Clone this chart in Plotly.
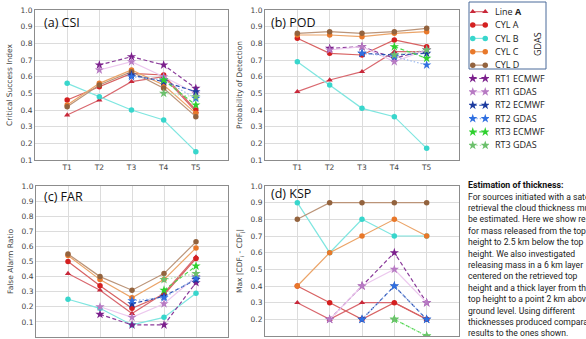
import plotly.graph_objects as go

# ---------------- data ----------------
times = ["T1", "T2", "T3", "T4", "T5"]
t_pos = [1, 2, 3, 4, 5]

series_names = ["Line <b>A</b>", "CYL A", "CYL B", "CYL C", "CYL D",
                "RT1 ECMWF", "RT1 GDAS", "RT2 ECMWF", "RT2 GDAS", "RT3 ECMWF", "RT3 GDAS"]

csi_line_a = [0.37, 0.46, 0.57, 0.60, 0.39]
csi_cyl_a = [0.46, 0.54, 0.62, 0.61, 0.40]
csi_cyl_b = [0.56, 0.48, 0.40, 0.34, 0.15]
csi_cyl_c = [0.43, 0.56, 0.64, 0.55, 0.38]
csi_cyl_d = [0.42, 0.55, 0.63, 0.53, 0.36]
csi_rt1_ecmwf = [None, 0.67, 0.72, 0.67, 0.53]
csi_rt1_gdas = [None, 0.64, 0.69, 0.60, 0.50]
csi_rt2_ecmwf = [None, None, 0.61, 0.57, 0.51]
csi_rt2_gdas = [None, None, 0.60, 0.58, 0.47]
csi_rt3_ecmwf = [None, None, None, 0.58, 0.43]
csi_rt3_gdas = [None, None, None, 0.50, 0.48]

pod_line_a = [0.51, 0.58, 0.63, 0.75, 0.75]
pod_cyl_a = [0.83, 0.74, 0.73, 0.82, 0.78]
pod_cyl_b = [0.69, 0.55, 0.41, 0.36, 0.17]
pod_cyl_c = [0.85, 0.85, 0.84, 0.86, 0.87]
pod_cyl_d = [0.86, 0.87, 0.86, 0.87, 0.89]
pod_rt1_ecmwf = [None, 0.77, 0.78, 0.71, 0.76]
pod_rt1_gdas = [None, 0.76, 0.78, 0.69, 0.76]
pod_rt2_ecmwf = [None, None, 0.74, 0.73, 0.74]
pod_rt2_gdas = [None, None, 0.74, 0.72, 0.67]
pod_rt3_ecmwf = [None, None, None, 0.78, 0.71]
pod_rt3_gdas = [None, None, None, 0.73, 0.76]

far_line_a = [0.42, 0.31, 0.155, 0.29, 0.53]
far_cyl_a = [0.50, 0.34, 0.19, 0.28, 0.52]
far_cyl_b = [0.25, 0.19, 0.08, 0.13, 0.29]
far_cyl_c = [0.54, 0.38, 0.26, 0.38, 0.59]
far_cyl_d = [0.55, 0.40, 0.31, 0.42, 0.63]
far_rt1_ecmwf = [None, 0.15, 0.08, 0.08, 0.36]
far_rt1_gdas = [None, 0.20, 0.13, 0.22, 0.40]
far_rt2_ecmwf = [None, None, 0.22, 0.27, 0.38]
far_rt2_gdas = [None, None, 0.24, 0.26, 0.39]
far_rt3_ecmwf = [None, None, None, 0.31, 0.47]
far_rt3_gdas = [None, None, None, 0.38, 0.42]

ksp_line_a = [0.3, 0.2, 0.3, 0.3, 0.2]
ksp_cyl_a = [0.4, 0.3, 0.2, 0.3, 0.2]
ksp_cyl_b = [0.9, 0.6, 0.8, 0.7, 0.7]
ksp_cyl_c = [0.4, 0.6, 0.7, 0.8, 0.7]
ksp_cyl_d = [0.8, 0.9, 0.9, 0.9, 0.9]
ksp_rt1_ecmwf = [None, 0.2, 0.4, 0.6, 0.3]
ksp_rt1_gdas = [None, 0.2, 0.4, 0.5, 0.3]
ksp_rt2_ecmwf = [None, None, 0.2, 0.4, 0.2]
ksp_rt2_gdas = [None, None, 0.2, 0.4, 0.2]
ksp_rt3_ecmwf = [None, None, None, 0.2, 0.1]
ksp_rt3_gdas = [None, None, None, 0.2, 0.1]

y_ticks = [0.1, 0.2, 0.3, 0.4, 0.5, 0.6, 0.7, 0.8, 0.9, 1.0]

panel_titles = ["(a) CSI", "(b) POD", "(c) FAR", "(d) KSP"]
axis_titles = ["Critical Success Index", "Probability of Detection",
               "False Alarm Ratio", "Max |CDF<sub>i</sub> - CDF<sub>j</sub>|"]

text_title = "Estimation of thickness:"
text_lines = [
    "For sources initiated with a satellite",
    "retrieval the cloud thickness must",
    "be estimated. Here we show results",
    "for mass released from the top",
    "height to 2.5 km below the top",
    "height. We also investigated",
    "releasing mass in a 6 km layer",
    "centered on the retrieved top",
    "height and a thick layer from the",
    "top height to a point 2 km above",
    "ground level. Using different",
    "thicknesses produced comparable",
    "results to the ones shown.",
]

# ---------------- styles ----------------
DASH = "4px,2.5px"
DOT = "1.5px,2px"
styles = [
    dict(symbol="triangle-up", size=5.5, mcolor="#c8283a", lcolor="#d9686f", dash="solid"),
    dict(symbol="circle", size=5.5, mcolor="#d42020", lcolor="#d86262", dash="solid"),
    dict(symbol="circle", size=5.5, mcolor="#38d6cc", lcolor="#7fe6e0", dash="solid"),
    dict(symbol="circle", size=5.5, mcolor="#e8782a", lcolor="#eba468", dash="solid"),
    dict(symbol="circle", size=5.5, mcolor="#93633e", lcolor="#bb9478", dash="solid"),
    dict(symbol="star", size=7, mcolor="#7b1f8c", lcolor="#8a3a9a", dash=DASH),
    dict(symbol="star", size=7, mcolor="#b77ac3", lcolor="#ecc8ee", dash="solid"),
    dict(symbol="star", size=7, mcolor="#1b3a9e", lcolor="#2a4fb0", dash=DASH),
    dict(symbol="star", size=7, mcolor="#2f6fe0", lcolor="#9ab8f0", dash=DOT),
    dict(symbol="star", size=7, mcolor="#2ed02e", lcolor="#4ad84a", dash=DASH),
    dict(symbol="star", size=7, mcolor="#6cc06c", lcolor="#b8e8b8", dash=DOT),
]

panels = [
    [csi_line_a, csi_cyl_a, csi_cyl_b, csi_cyl_c, csi_cyl_d, csi_rt1_ecmwf, csi_rt1_gdas,
     csi_rt2_ecmwf, csi_rt2_gdas, csi_rt3_ecmwf, csi_rt3_gdas],
    [pod_line_a, pod_cyl_a, pod_cyl_b, pod_cyl_c, pod_cyl_d, pod_rt1_ecmwf, pod_rt1_gdas,
     pod_rt2_ecmwf, pod_rt2_gdas, pod_rt3_ecmwf, pod_rt3_gdas],
    [far_line_a, far_cyl_a, far_cyl_b, far_cyl_c, far_cyl_d, far_rt1_ecmwf, far_rt1_gdas,
     far_rt2_ecmwf, far_rt2_gdas, far_rt3_ecmwf, far_rt3_gdas],
    [ksp_line_a, ksp_cyl_a, ksp_cyl_b, ksp_cyl_c, ksp_cyl_d, ksp_rt1_ecmwf, ksp_rt1_gdas,
     ksp_rt2_ecmwf, ksp_rt2_gdas, ksp_rt3_ecmwf, ksp_rt3_gdas],
]

W, H = 586, 339


def px_x(a, b):
    return [a / W, b / W]


def px_y(top, bottom):
    return [1 - bottom / H, 1 - top / H]


dom_x = [px_x(35, 228), px_x(265, 459), px_x(36, 228), px_x(265, 459)]
dom_y = [px_y(10, 160), px_y(10, 160), px_y(186, 337), px_y(186, 336)]
y_ranges = [[0.1, 1.0], [0.1, 1.0], [0.0, 1.0], [0.1, 1.0]]

fig = go.Figure()

for p, series in enumerate(panels):
    ax = "" if p == 0 else str(p + 1)
    for name, vals, st in zip(series_names, series, styles):
        fig.add_trace(go.Scatter(
            x=t_pos, y=vals, name=name, mode="lines+markers",
            xaxis="x" + ax, yaxis="y" + ax, showlegend=False,
            connectgaps=False,
            line=dict(color=st["lcolor"], width=1.2, dash=st["dash"]),
            marker=dict(symbol=st["symbol"], size=st["size"], color=st["mcolor"],
                        line=dict(width=0)),
        ))

# legend drawn as a small categorical axis (two sample markers per entry)
for name, st in zip(series_names, styles):
    fig.add_trace(go.Scatter(
        x=[0, 1], y=[name, name], mode="lines+markers", xaxis="x5", yaxis="y5",
        showlegend=False, hoverinfo="skip",
        line=dict(color=st["lcolor"], width=1.2, dash=st["dash"]),
        marker=dict(symbol=st["symbol"], size=st["size"], color=st["mcolor"],
                    line=dict(width=0)),
    ))

tick_font = dict(family="DejaVu Sans", size=7.5, color="#444444")
title_font = dict(family="DejaVu Sans", size=7.5, color="#444444")

layout = dict(
    width=W, height=H, margin=dict(l=0, r=0, t=0, b=0, autoexpand=False),
    paper_bgcolor="white", plot_bgcolor="white",
    showlegend=False,
)

for p in range(4):
    ax = "" if p == 0 else str(p + 1)
    layout["xaxis" + ax] = dict(
        domain=dom_x[p], range=[0, 6], tickvals=t_pos, ticktext=times,
        showgrid=True, gridcolor="#dcdcdc", gridwidth=1,
        showline=True, linecolor="#8c8c8c", linewidth=1, mirror=True,
        ticks="", tickfont=tick_font, zeroline=False, automargin=False,
        anchor="y" + ax, fixedrange=True,
    )
    layout["yaxis" + ax] = dict(
        domain=dom_y[p], range=y_ranges[p], tickvals=y_ticks,
        ticktext=["%.1f" % v for v in y_ticks],
        showgrid=True, gridcolor="#dcdcdc", gridwidth=1,
        showline=True, linecolor="#8c8c8c", linewidth=1, mirror=True,
        ticks="", tickfont=tick_font, zeroline=False, automargin=False,
        title=dict(text=axis_titles[p], font=title_font, standoff=6),
        anchor="x" + ax, fixedrange=True,
    )

layout["xaxis5"] = dict(domain=px_x(469, 489), range=[-0.3, 1.3], visible=False,
                        anchor="y5", fixedrange=True, automargin=False)
layout["yaxis5"] = dict(domain=px_y(5, 152), range=[10.5, -0.5], type="category",
                        categoryorder="array", categoryarray=series_names,
                        side="right", showgrid=False, showline=False, zeroline=False,
                        ticks="", ticklabelstandoff=5, automargin=False,
                        tickfont=dict(family="Open Sans", size=9, color="#222222"),
                        anchor="x5", fixedrange=True)

annotations = []
label_pos = [(42, 22), (269, 22), (42, 196), (269, 193)]
for t, (lx, ly) in zip(panel_titles, label_pos):
    annotations.append(dict(text=t, x=lx / W, y=1 - ly / H, xref="paper", yref="paper",
                            xanchor="left", yanchor="middle", showarrow=False,
                            font=dict(family="Open Sans", size=12.5, color="#111111")))

annotations.append(dict(text="GDAS", x=537 / W, y=1 - 44 / H, xref="paper", yref="paper",
                        textangle=-90, showarrow=False, xanchor="center", yanchor="middle",
                        font=dict(family="Open Sans", size=9, color="#222222")))

body_font = "Roboto"
annotations.append(dict(text="<b>" + text_title + "</b>", x=466 / W, y=1 - 185 / H,
                        xref="paper", yref="paper", xanchor="left", yanchor="middle",
                        showarrow=False,
                        font=dict(family=body_font, size=8.8, color="#111111")))
for i, line in enumerate(text_lines):
    annotations.append(dict(text=line, x=466 / W, y=1 - (196.5 + i * 11.4) / H,
                            xref="paper", yref="paper", xanchor="left", yanchor="middle",
                            showarrow=False,
                            font=dict(family=body_font, size=8.6, color="#222222")))

layout["annotations"] = annotations
layout["shapes"] = [dict(type="rect", xref="paper", yref="paper",
                         x0=469 / W, x1=546 / W, y0=1 - 69 / H, y1=1 - 2 / H,
                         line=dict(color="#4a6a9a", width=1), fillcolor="rgba(0,0,0,0)")]

fig.update_layout(**layout)
fig.write_html(
    "out.html",
    config={"displayModeBar": False},
    post_script="document.body.style.margin='0px';document.body.style.overflow='hidden';",
)
